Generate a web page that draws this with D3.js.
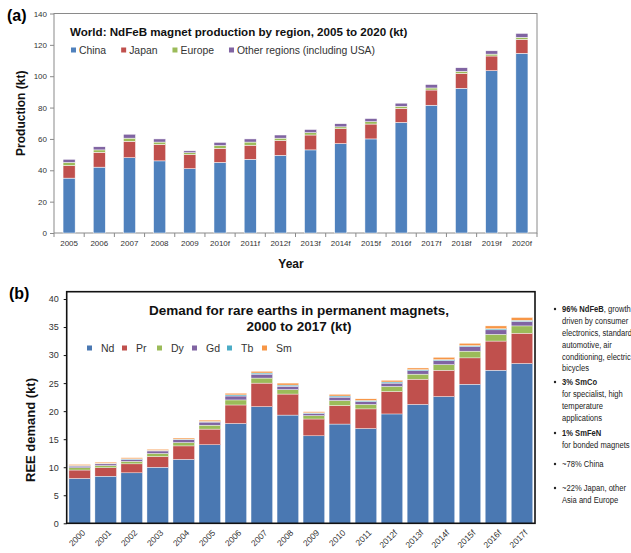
<!DOCTYPE html>
<html>
<head>
<meta charset="utf-8">
<script src="https://cdn.jsdelivr.net/npm/d3@7"></script>
<style>
  body { margin: 0; background: #fff; }
  svg { display: block; font-family: "Liberation Sans", Arial, sans-serif; }
</style>
</head>
<body>
<div id="chart"></div>
<script>
// (a) NdFeB magnet production by region, kt
const yearsA = ["2005", "2006", "2007", "2008", "2009", "2010f", "2011f", "2012f",
  "2013f", "2014f", "2015f", "2016f", "2017f", "2018f", "2019f", "2020f"];
const china = [35, 42, 48, 46, 41, 45, 47, 49.5, 53, 57, 60, 70.5, 81.5, 92.3, 103.5, 114.6];
const japan = [8, 9.5, 10.5, 10.5, 9, 9, 9, 9.5, 9.5, 9.5, 9.5, 9, 9.7, 9.5, 9.4, 8.9];
const europe = [2, 1.5, 2, 1.5, 1.2, 1.8, 2, 1.5, 1.5, 1.2, 1.5, 1.3, 1.3, 1.3, 1.2, 1.3];
const otherRegions = [2, 2, 2.5, 2, 1.2, 2, 2, 2, 2, 2, 2, 2, 2.2, 2.3, 2.1, 2.5];
const regionNames = ["China", "Japan", "Europe", "Other regions (including USA)"];
const ticksA = [0, 20, 40, 60, 80, 100, 120, 140];

// (b) REE demand in permanent magnets, kt
const yearsB = ["2000", "2001", "2002", "2003", "2004", "2005", "2006", "2007", "2008",
  "2009", "2010", "2011", "2012f", "2013f", "2014f", "2015f", "2016f", "2017f"];
const nd = [8, 8.4, 9, 10, 11.4, 14, 17.8, 20.8, 19.3, 15.6, 17.7, 16.9, 19.5, 21.2, 22.6, 24.8, 27.3, 28.5];
const pr = [1.5, 1.5, 1.6, 1.9, 2.4, 2.8, 3.3, 4.2, 3.75, 3.0, 3.3, 3.5, 4.0, 4.5, 4.7, 4.7, 5.2, 5.4];
const dy = [0.4, 0.4, 0.45, 0.55, 0.6, 0.7, 0.9, 0.9, 0.8, 0.6, 0.9, 0.8, 0.9, 0.9, 1.0, 1.2, 1.2, 1.3];
const gd = [0.3, 0.3, 0.35, 0.45, 0.5, 0.55, 0.7, 0.7, 0.6, 0.4, 0.6, 0.5, 0.6, 0.6, 0.7, 0.8, 0.8, 0.8];
const tb = [0.1, 0.1, 0.1, 0.1, 0.1, 0.1, 0.2, 0.2, 0.2, 0.1, 0.2, 0.2, 0.2, 0.2, 0.2, 0.2, 0.2, 0.2];
const sm = [0.2, 0.2, 0.2, 0.2, 0.2, 0.25, 0.3, 0.3, 0.35, 0.2, 0.3, 0.3, 0.3, 0.3, 0.4, 0.4, 0.5, 0.5];
const elements = ["Nd", "Pr", "Dy", "Gd", "Tb", "Sm"];
const ticksB = [0, 5, 10, 15, 20, 25, 30, 35, 40];

const notes = [
  [{ b: "96% NdFeB", t: ", growth" }, "driven by consumer", "electronics, standard",
    "automotive, air", "conditioning, electric", "bicycles"],
  [{ b: "3% SmCo", t: "" }, "for specialist, high", "temperature", "applications"],
  [{ b: "1% SmFeN", t: "" }, "for bonded magnets"],
  ["~78% China"],
  ["~22% Japan, other", "Asia and Europe"]
];

const svg = d3.select("#chart").append("svg")
  .attr("width", 631).attr("height", 553);

// ---------- chart (a) ----------
const colorA = d3.scaleOrdinal().domain(regionNames)
  .range(["#4f81bd", "#c0504d", "#9bbb59", "#8064a2"]);

const rowsA = yearsA.map((y, i) => ({
  year: y, [regionNames[0]]: china[i], [regionNames[1]]: japan[i],
  [regionNames[2]]: europe[i], [regionNames[3]]: otherRegions[i]
}));

const xA = d3.scaleBand().domain(yearsA).range([54, 537])
  .paddingInner(0.6).paddingOuter(0.3);
const yA = d3.scaleLinear().domain([0, 140]).range([233, 13.5]);

const gA = svg.append("g");

gA.append("rect")
  .attr("x", 54).attr("y", yA(140))
  .attr("width", 483).attr("height", yA(0) - yA(140))
  .attr("fill", "none").attr("stroke", "#8a8a8a");

gA.append("g")
  .selectAll("g")
  .data(d3.stack().keys(regionNames)(rowsA))
  .join("g")
  .attr("fill", (d) => colorA(d.key))
  .selectAll("rect")
  .data((d) => d)
  .join("rect")
  .attr("x", (d) => xA(d.data.year))
  .attr("y", (d) => yA(d[1]))
  .attr("width", xA.bandwidth())
  .attr("height", (d) => yA(d[0]) - yA(d[1]))
  .attr("stroke", "#fff").attr("stroke-width", 0.5);

const axA = gA.append("g").attr("transform", "translate(54,0)")
  .call(d3.axisLeft(yA).tickValues(ticksA).tickSize(4).tickPadding(3));
axA.select(".domain").remove();
axA.selectAll("line").attr("stroke", "#8a8a8a");
axA.selectAll("text").attr("font-size", 8).attr("fill", "#333");

const bxA = gA.append("g").attr("transform", `translate(0,${yA(0)})`)
  .call(d3.axisBottom(xA).tickSize(0).tickPadding(7));
bxA.select(".domain").remove();
bxA.selectAll("text").attr("font-size", 8).attr("fill", "#333");
// small tick marks between the bars
gA.append("g").selectAll("line")
  .data(yearsA.concat(["end"]))
  .join("line")
  .attr("x1", (d, i) => 54 + i * xA.step())
  .attr("x2", (d, i) => 54 + i * xA.step())
  .attr("y1", yA(0)).attr("y2", yA(0) + 4)
  .attr("stroke", "#8a8a8a");

gA.append("text").attr("x", 70).attr("y", 36)
  .attr("font-size", 11.6).attr("font-weight", "bold").attr("fill", "#111")
  .text("World: NdFeB magnet production by region, 2005 to 2020 (kt)");

let lx = 71;
regionNames.forEach((name) => {
  gA.append("rect").attr("x", lx).attr("y", 47.5).attr("width", 5).attr("height", 5)
    .attr("fill", colorA(name));
  const t = gA.append("text").attr("x", lx + 8).attr("y", 53.5)
    .attr("font-size", 10.4).attr("fill", "#333").text(name);
  lx += 8 + t.node().getComputedTextLength() + 15;
});

gA.append("text")
  .attr("transform", `translate(21,${(yA(0) + yA(140)) / 2 - 10}) rotate(-90)`)
  .attr("text-anchor", "middle").attr("dy", "0.35em")
  .attr("font-size", 12).attr("font-weight", "bold").attr("fill", "#111")
  .text("Production (kt)");

gA.append("text").attr("x", 291).attr("y", 268)
  .attr("text-anchor", "middle")
  .attr("font-size", 12).attr("font-weight", "bold").attr("fill", "#111")
  .text("Year");

svg.append("text").attr("x", 7).attr("y", 21)
  .attr("font-size", 16).attr("font-weight", "bold").text("(a)");

// ---------- chart (b) ----------
const colorB = d3.scaleOrdinal().domain(elements)
  .range(["#4a78b2", "#c0504d", "#9bbb59", "#8064a2", "#4bacc6", "#f79646"]);
const seriesB = [nd, pr, dy, gd, tb, sm];

const rowsB = yearsB.map((y, i) => {
  const r = { year: y };
  elements.forEach((e, k) => { r[e] = seriesB[k][i]; });
  return r;
});

const xB = d3.scaleBand().domain(yearsB).range([66.7, 535])
  .paddingInner(0.17).paddingOuter(0.085);
const yB = d3.scaleLinear().domain([0, 40]).range([523.3, 299]);

const gB = svg.append("g");

gB.append("g")
  .selectAll("g")
  .data(d3.stack().keys(elements)(rowsB))
  .join("g")
  .attr("fill", (d) => colorB(d.key))
  .selectAll("rect")
  .data((d) => d)
  .join("rect")
  .attr("x", (d) => xB(d.data.year))
  .attr("y", (d) => yB(d[1]))
  .attr("width", xB.bandwidth())
  .attr("height", (d) => yB(d[0]) - yB(d[1]))
  .attr("stroke", "#fff").attr("stroke-width", 0.4);

gB.append("rect")
  .attr("x", 66.7).attr("y", 291.7)
  .attr("width", 535 - 66.7).attr("height", yB(0) - 291.7)
  .attr("fill", "none").attr("stroke", "#111").attr("stroke-width", 1.6);

const axB = gB.append("g").attr("transform", "translate(66.7,0)")
  .call(d3.axisLeft(yB).tickValues(ticksB).tickSize(3).tickPadding(5));
axB.select(".domain").remove();
axB.selectAll("line").attr("stroke", "#111");
axB.selectAll("text").attr("font-size", 9).attr("fill", "#333");

gB.append("g").selectAll("text")
  .data(yearsB)
  .join("text")
  .attr("transform", (d) => `translate(${xB(d) + xB.bandwidth() / 2 + 4},${yB(0) + 8}) rotate(-45)`)
  .attr("text-anchor", "end").attr("dy", "0.35em")
  .attr("font-size", 8.5).attr("fill", "#333")
  .text((d) => d);

gB.append("text").attr("x", 299).attr("y", 315)
  .attr("text-anchor", "middle")
  .attr("font-size", 13.5).attr("font-weight", "bold").attr("fill", "#111")
  .text("Demand for rare earths in permanent magnets,");
gB.append("text").attr("x", 299).attr("y", 331)
  .attr("text-anchor", "middle")
  .attr("font-size", 13.5).attr("font-weight", "bold").attr("fill", "#111")
  .text("2000 to 2017 (kt)");

const legB = gB.append("g").selectAll("g")
  .data(elements)
  .join("g")
  .attr("transform", (d, i) => `translate(${87 + i * 35},348)`);
legB.append("rect").attr("x", 0).attr("y", -2.5).attr("width", 5).attr("height", 5)
  .attr("fill", (d) => colorB(d));
legB.append("text").attr("x", 14).attr("dy", "0.35em")
  .attr("font-size", 10.5).attr("fill", "#333")
  .text((d) => d);

gB.append("text")
  .attr("transform", "translate(30,430) rotate(-90)")
  .attr("text-anchor", "middle").attr("dy", "0.35em")
  .attr("font-size", 13).attr("font-weight", "bold").attr("fill", "#111")
  .text("REE demand (kt)");

svg.append("text").attr("x", 9).attr("y", 299)
  .attr("font-size", 16).attr("font-weight", "bold").text("(b)");

// ---------- notes on the right (condensed like Arial Narrow) ----------
const notesG = svg.append("g")
  .attr("font-size", 9.5).attr("fill", "#222");
const groupStart = [309, 382, 433, 464, 488];
notes.forEach((lines, gi) => {
  const y0 = groupStart[gi];
  notesG.append("circle").attr("cx", 555).attr("cy", y0).attr("r", 1.2).attr("fill", "#222");
  lines.forEach((ln, li) => {
    const t = notesG.append("text")
      .attr("transform", `translate(562,${y0 + li * 11.8}) scale(0.8,1)`)
      .attr("dy", "0.35em");
    if (typeof ln === "string") {
      t.text(ln);
    } else {
      t.append("tspan").attr("font-weight", "bold").text(ln.b);
      t.append("tspan").text(ln.t);
    }
  });
});
</script>
</body>
</html>
